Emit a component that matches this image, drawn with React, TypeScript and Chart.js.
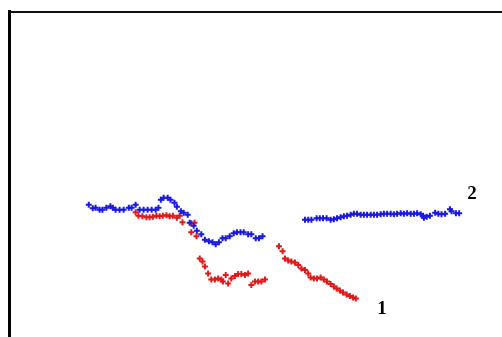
import React, { useEffect, useRef } from "react";
import { Chart, registerables } from "chart.js";

Chart.register(...registerables);

const blue1X = [19.8, 20.8, 21.5, 22.5, 23.2, 24.2, 25.2, 25.8, 26.5, 27.5, 28.5, 29.8, 30.5, 31.5, 32.5, 33.5, 34.5, 35.5, 36.5, 37.2, 37.8, 38.5, 39.5, 40.2, 41.2, 41.8, 42.8, 43.5, 44.5, 45.0, 46.0, 46.8, 47.9, 48.8, 49.8, 50.7, 51.5, 52.3, 53.2, 54.0, 55.0, 56.0, 56.8, 57.7, 58.5, 59.6, 60.4, 61.5, 62.3, 63.2];
const blue1Y = [26.4, 25.7, 25.8, 25.4, 25.4, 25.8, 26.1, 25.8, 25.4, 25.4, 25.4, 25.8, 25.8, 26.4, 25.4, 25.4, 25.4, 25.4, 25.4, 25.8, 27.4, 27.8, 27.8, 27.4, 26.8, 26.0, 25.1, 24.8, 24.4, 22.8, 22.2, 21.2, 20.5, 19.4, 19.1, 18.9, 18.5, 18.9, 19.7, 19.7, 20.1, 20.7, 20.9, 20.9, 20.9, 20.5, 20.5, 19.7, 19.7, 20.1];

const blue2X = [73.8, 74.6, 75.4, 76.7, 77.5, 78.3, 79.2, 80.2, 81.0, 81.8, 82.7, 83.5, 84.3, 85.2, 86.0, 86.8, 87.7, 88.5, 89.3, 90.2, 91.0, 91.8, 92.7, 93.5, 94.3, 95.2, 96.0, 96.8, 97.7, 98.5, 99.3, 100.2, 101.0, 101.8, 102.7, 103.3, 103.5, 104.2, 105.0, 106.3, 107.1, 107.9, 108.8, 110.0, 110.4, 111.5, 112.3];
const blue2Y = [23.4, 23.4, 23.4, 23.7, 23.7, 23.7, 23.7, 23.4, 23.5, 23.7, 23.9, 24.1, 24.2, 24.4, 24.6, 24.6, 24.4, 24.4, 24.4, 24.4, 24.4, 24.4, 24.5, 24.6, 24.6, 24.6, 24.5, 24.6, 24.7, 24.6, 24.7, 24.6, 24.6, 24.7, 24.5, 24.2, 23.8, 24.0, 24.2, 24.8, 24.6, 24.5, 24.6, 25.5, 25.1, 24.7, 24.7];

const red1X = [31.5, 32.2, 33.2, 34.2, 35.0, 35.8, 36.7, 37.5, 38.3, 39.2, 40.0, 40.8, 41.8, 42.5, 43.2, 45.4, 46.2, 45.4, 46.7];
const red1Y = [24.9, 24.2, 24.1, 23.9, 23.9, 24.0, 24.2, 24.1, 24.2, 24.3, 24.1, 24.2, 23.8, 24.2, 22.9, 22.7, 22.8, 20.9, 20.1];

const red2X = [47.5, 48.2, 48.8, 49.6, 50.4, 51.3, 52.1, 52.9, 53.3, 54.0, 54.6, 55.4, 56.3, 57.1, 57.9, 58.8, 59.6, 60.4, 61.3, 62.1, 62.9, 63.8];
const red2Y = [15.7, 15.1, 14.1, 12.7, 11.5, 11.5, 11.7, 11.5, 11.1, 12.4, 10.7, 11.7, 12.2, 12.6, 12.6, 12.4, 12.7, 10.4, 11.1, 11.1, 11.1, 11.5];

const red3X = [67.3, 68.2, 68.8, 69.6, 70.4, 71.3, 72.1, 72.9, 73.8, 74.6, 75.2, 76.0, 76.8, 77.7, 78.5, 79.3, 80.2, 81.0, 81.7, 82.5, 83.3, 84.2, 85.0, 85.8, 86.5];
const red3Y = [18.1, 17.1, 15.7, 15.3, 15.1, 14.9, 14.4, 13.7, 13.4, 12.7, 11.9, 11.7, 11.7, 11.9, 11.5, 11.1, 10.6, 10.1, 9.7, 9.3, 8.9, 8.5, 8.2, 7.9, 7.7];

const seriesLabels = ["1", "2"];
const labelPosX = [93.0, 115.5];
const labelPosY = [5.6, 28.6];

const zip = (xs: number[], ys: number[]) => xs.map((x, i) => ({ x, y: ys[i] }));

const labelPlugin = {
  id: "seriesLabels",
  afterDatasetsDraw(chart: any) {
    const { ctx, scales } = chart;
    ctx.save();
    ctx.fillStyle = "#000";
    ctx.font = "bold 19px 'Liberation Serif', serif";
    ctx.textAlign = "center";
    ctx.textBaseline = "middle";
    seriesLabels.forEach((t, i) => {
      ctx.fillText(t, scales.x.getPixelForValue(labelPosX[i]), scales.y.getPixelForValue(labelPosY[i]));
    });
    ctx.restore();
  },
};

export default function App() {
  const ref = useRef<HTMLCanvasElement>(null);
  useEffect(() => {
    document.body.style.margin = "0";
    const blue = "rgb(25,25,225)";
    const red = "rgb(225,25,25)";
    const pt = (color: string, pts: any[]) => ({
      data: pts,
      showLine: false,
      pointStyle: "cross",
      pointRadius: 3,
      pointBorderWidth: 2,
      borderColor: color,
      backgroundColor: color,
    });
    const chart = new Chart(ref.current!, {
      type: "scatter",
      data: {
        datasets: [
          pt(blue, zip(blue1X, blue1Y)),
          pt(blue, zip(blue2X, blue2Y)),
          pt(red, zip(red1X, red1Y)),
          pt(red, zip(red2X, red2Y)),
          pt(red, zip(red3X, red3Y)),
        ],
      },
      options: {
        responsive: false,
        animation: false,
        layout: { autoPadding: false, padding: { left: 9.5, top: 11.5, right: 0, bottom: 0 } },
        plugins: { legend: { display: false }, tooltip: { enabled: false } },
        scales: {
          x: {
            type: "linear",
            position: "top",
            min: 0,
            max: 123,
            ticks: { display: false },
            grid: { display: false, drawTicks: false },
            border: { display: true, color: "#111", width: 2 },
          },
          y: {
            type: "linear",
            position: "left",
            min: 0,
            max: 65,
            ticks: { display: false },
            grid: { display: false, drawTicks: false },
            border: { display: true, color: "#000", width: 3 },
          },
        },
      },
      plugins: [labelPlugin],
    });
    return () => chart.destroy();
  }, []);
  return <canvas ref={ref} width={502} height={337} style={{ display: "block" }} />;
}
